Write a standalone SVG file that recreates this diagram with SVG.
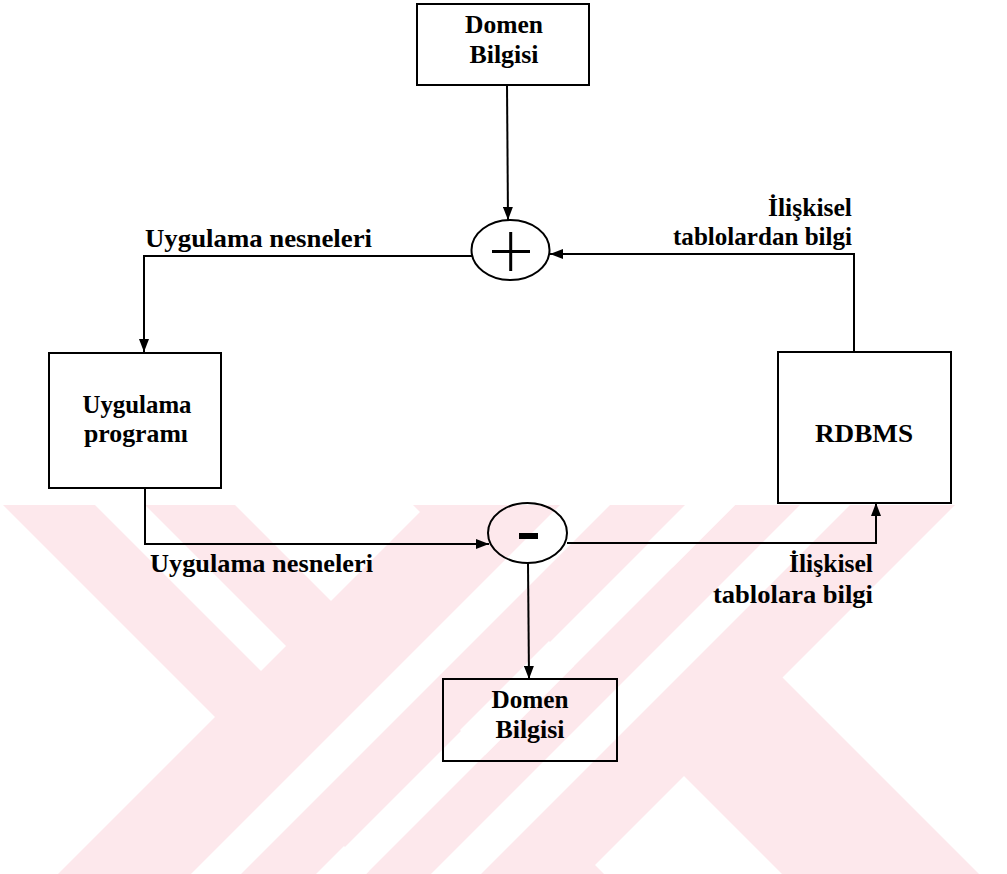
<svg xmlns="http://www.w3.org/2000/svg" width="1007" height="874" viewBox="0 0 1007 874">
  <style>
    .box { fill: none; stroke: #000; stroke-width: 2; }
    .sum { fill: none; stroke: #000; stroke-width: 2; }
    .wire { fill: none; stroke: #000; stroke-width: 2; }
    .t { font-family: "Liberation Serif", "Times New Roman", serif; font-weight: bold; fill: #000; }
    .tb { font-size: 26px; text-anchor: middle; }
    .tl { font-size: 25px; }
    .wm { fill: #fde8ec; }
    .gap { fill: #ffffff; }
  </style>
  <defs>
    <marker id="arr" viewBox="0 0 13 10" refX="13" refY="5" markerWidth="13" markerHeight="10" orient="auto" markerUnits="userSpaceOnUse">
      <path d="M0,0 L13,5 L0,10 z" fill="#000"/>
    </marker>
    <clipPath id="wmclip">
      <rect x="0" y="505" width="1007" height="369"/>
    </clipPath>
  </defs>

  <rect x="0" y="0" width="1007" height="874" fill="#ffffff"/>

  <!-- pale background emblem: two crossed pairs of diagonal bands -->
  <g id="emblem" clip-path="url(#wmclip)">
    <!-- falling bands -->
    <polygon class="wm" points="3,505 235,505 604,874 372,874"/>
    <polygon class="wm" points="413,505 610,505 979,874 782,874"/>
    <!-- rising bands -->
    <polygon class="wm" points="427,505 685,505 316,874 58,874"/>
    <polygon class="wm" points="735,505 955,505 586,874 366,874"/>
    <!-- white separations -->
    <polygon class="gap" points="95,505 145,505 286,646 261,671"/>
    <polygon class="gap" points="560,505 610,505 241,874 191,874"/>
    <polygon class="gap" points="687,505 735,505 366,874 318,874"/>
    <polygon class="gap" points="800,505 850,505 481,874 431,874"/>
  </g>

  <!-- connectors -->
  <g id="connectors">
    <line class="wire" x1="507" y1="85" x2="508" y2="220" marker-end="url(#arr)"/>
    <polyline class="wire" points="854,352 854,254 550,254" marker-end="url(#arr)"/>
    <polyline class="wire" points="472,256 144,256 144,352" marker-end="url(#arr)"/>
    <polyline class="wire" points="145,488 145,544 489,544" marker-end="url(#arr)"/>
    <polyline class="wire" points="567,543 876,543 876,503" marker-end="url(#arr)"/>
    <line class="wire" x1="528" y1="563" x2="529" y2="679" marker-end="url(#arr)"/>
  </g>

  <!-- labels on the connectors -->
  <g id="labels">
    <text class="t tl" x="145" y="247" textLength="227" lengthAdjust="spacingAndGlyphs">Uygulama nesneleri</text>
    <text class="t tl" x="852" y="216" text-anchor="end" textLength="84" lengthAdjust="spacingAndGlyphs">İlişkisel</text>
    <text class="t tl" x="852" y="245" text-anchor="end" textLength="179" lengthAdjust="spacingAndGlyphs">tablolardan bilgi</text>
    <text class="t tl" x="150" y="572" textLength="223" lengthAdjust="spacingAndGlyphs">Uygulama nesneleri</text>
    <text class="t tl" x="873" y="572" text-anchor="end" textLength="84" lengthAdjust="spacingAndGlyphs">İlişkisel</text>
    <text class="t tl" x="873" y="603" text-anchor="end" textLength="160" lengthAdjust="spacingAndGlyphs">tablolara bilgi</text>
  </g>

  <g id="domen-top">
    <rect class="box" x="417" y="4" width="172" height="81"/>
    <text class="t tb" x="504" y="33" textLength="78" lengthAdjust="spacingAndGlyphs">Domen</text>
    <text class="t tb" x="504" y="63" textLength="69" lengthAdjust="spacingAndGlyphs">Bilgisi</text>
  </g>

  <g id="sum-plus">
    <ellipse class="sum" cx="510.5" cy="250" rx="39" ry="30"/>
    <line x1="492" y1="251.5" x2="530" y2="251.5" stroke="#000" stroke-width="3"/>
    <line x1="510.7" y1="232" x2="510.7" y2="271" stroke="#000" stroke-width="3"/>
  </g>

  <g id="uygulama-programi">
    <rect class="box" x="49" y="353" width="172" height="135"/>
    <text class="t tb" x="137" y="413" textLength="109" lengthAdjust="spacingAndGlyphs">Uygulama</text>
    <text class="t tb" x="136" y="442" textLength="104" lengthAdjust="spacingAndGlyphs">programı</text>
  </g>

  <g id="rdbms">
    <rect class="box" x="778" y="352" width="173" height="151"/>
    <text class="t tb" x="864" y="442" textLength="98" lengthAdjust="spacingAndGlyphs">RDBMS</text>
  </g>

  <g id="sum-minus">
    <ellipse class="sum" cx="527.5" cy="533" rx="39.5" ry="30"/>
    <rect x="519" y="533" width="19" height="6" fill="#000"/>
  </g>

  <g id="domen-bottom">
    <rect class="box" x="443" y="679" width="174" height="82"/>
    <text class="t tb" x="530" y="708" textLength="77" lengthAdjust="spacingAndGlyphs">Domen</text>
    <text class="t tb" x="530" y="738" textLength="69" lengthAdjust="spacingAndGlyphs">Bilgisi</text>
  </g>
</svg>
